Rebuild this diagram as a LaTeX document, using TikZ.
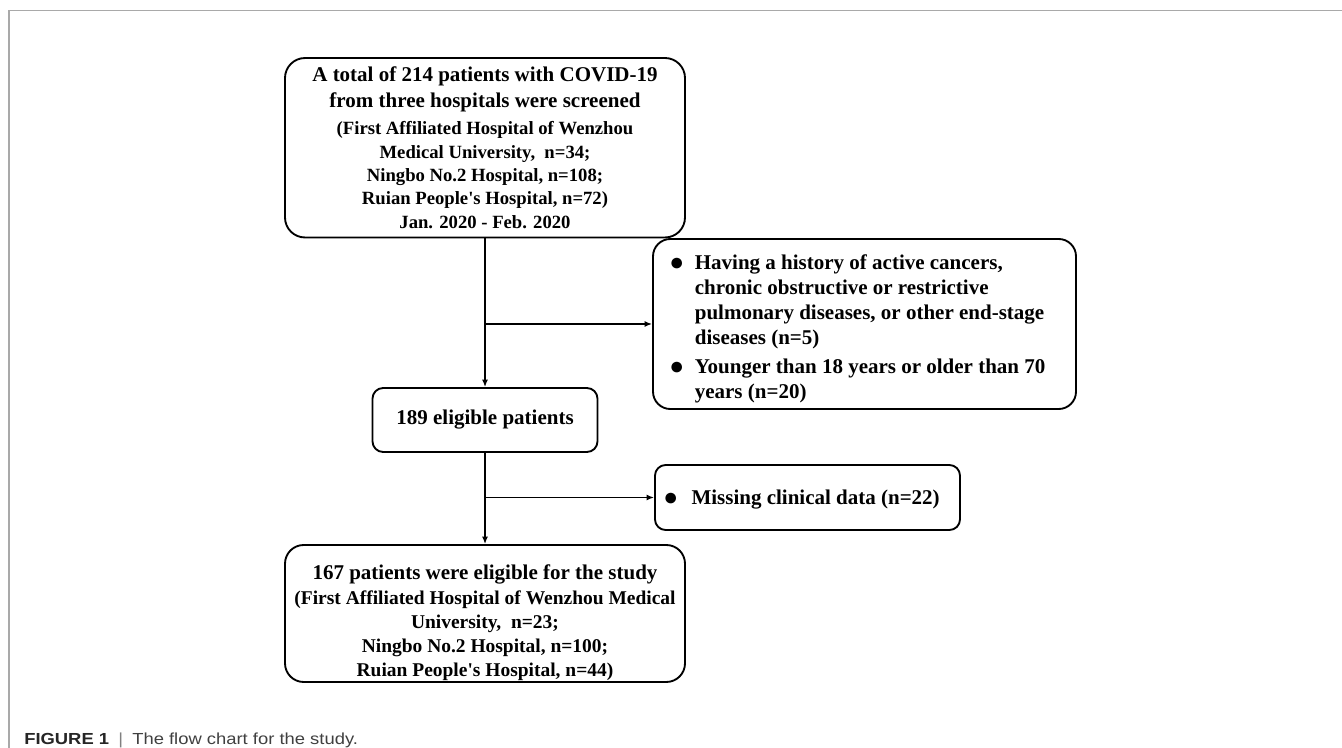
\documentclass[tikz,border=0pt]{standalone}
\usepackage{fontspec}
\usepackage{graphicx}
\setmainfont{Liberation Serif}[Ligatures=TeXOff]
\setsansfont{Liberation Sans}[Ligatures=TeXOff]
\usetikzlibrary{arrows.meta}
\definecolor{framegray}{HTML}{A9A9A9}
\definecolor{capgray}{HTML}{404040}
\newcommand{\headfont}{\bfseries\fontsize{15.75}{19.5}\selectfont}
\newcommand{\headsz}{\fontsize{15.75}{19.5}\selectfont}
\newcommand{\topdet}{\bfseries\fontsize{14}{17.5}\selectfont}
\newcommand{\botdet}{\bfseries\fontsize{14.6}{18}\selectfont}
\newcommand{\listfont}{\bfseries\fontsize{15.75}{18.75}\selectfont}
\newcommand{\bul}{\raisebox{-0.6pt}{\fontsize{18.5}{18.5}\selectfont ●}}
\tikzset{
  flowbox/.style={draw=black, line width=1.4pt, fill=white, inner sep=0pt, align=center},
  connline/.style={draw=black, line width=1.25pt},
  arrowline/.style={connline, -{Latex[length=5.5pt,width=4.5pt]}},
  listtext/.style={inner sep=0pt, anchor=west, font=\listfont},
}
\begin{document}
\begin{tikzpicture}[x=0.75pt,y=-0.75pt]
\useasboundingbox (0,0) rectangle (1342,748);
\fill[white] (0,0) rectangle (1342,748);
\draw[framegray, line width=1.1pt] (9,748) -- (9,10.5) -- (1342,10.5);

\node[flowbox, rounded corners=15pt, minimum width=300pt, minimum height=134.6pt, font=\topdet] (screen) at (485,147.75)
 {\headsz A total of 214 patients with COVID-19\\[2pt]
  \headsz from three hospitals were screened\\[2.8pt]
  (First Affiliated Hospital of Wenzhou\\
  Medical University,~ n=34;\\
  Ningbo No.2 Hospital, n=108;\\
  Ruian People's Hospital, n=72)\\
  Jan. 2020 - Feb. 2020};

\node[flowbox, rounded corners=13pt, minimum width=317.25pt, minimum height=127.5pt] (excl1) at (864.5,324) {};
\node[listtext] (excl1txt) at (669,329) {\begin{tabular}{@{}l@{\hspace{8pt}}l@{}}
\bul & Having a history of active cancers,\\
 & chronic obstructive or restrictive\\
 & pulmonary diseases, or other end-stage\\
 & diseases (n=5)\\[3pt]
\bul & Younger than 18 years or older than 70\\
 & years (n=20)
\end{tabular}};

\node[flowbox, rounded corners=8pt, minimum width=168.75pt, minimum height=48pt, font=\headfont] (elig) at (485,420) {189 eligible patients};

\node[flowbox, rounded corners=8pt, minimum width=228.75pt, minimum height=48.75pt] (excl2) at (807.5,497.5) {};
\node[listtext] (excl2txt) at (663,500) {\bul\hspace{10pt}Missing clinical data (n=22)};

\node[flowbox, rounded corners=14pt, minimum width=300pt, minimum height=102.75pt, font=\botdet] (final) at (485,613.5)
 {\headsz\rule{0pt}{25pt}167 patients were eligible for the study\\[1pt]
  (First Affiliated Hospital of Wenzhou Medical\\
  University,~ n=23;\\
  Ningbo No.2 Hospital, n=100;\\
  Ruian People's Hospital, n=44)};

\draw[arrowline] (screen.south) -- (elig.north);
\draw[arrowline] (screen.south |- excl1.west) -- (excl1.west);
\draw[arrowline] (elig.south) -- (final.north);
\draw[arrowline] (elig.south |- excl2.west) -- (excl2.west);

\node[anchor=base west, inner sep=0pt, font=\sffamily\fontsize{12}{15}\selectfont, text=capgray] (caption) at (24,744)
 {\scalebox{1.15}[1]{\textbf{\color{black!85}FIGURE 1}\hspace{6pt}{\color{gray}|}\hspace{6pt}The flow chart for the study.}};
\end{tikzpicture}
\end{document}
